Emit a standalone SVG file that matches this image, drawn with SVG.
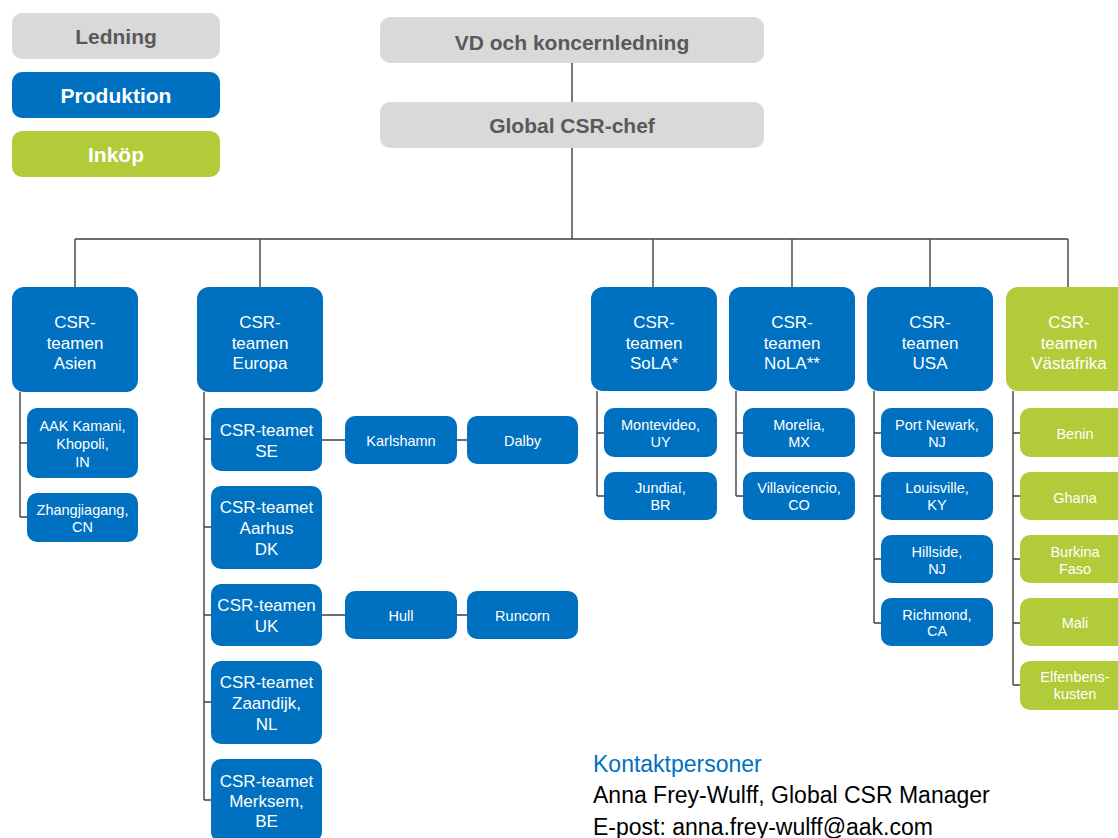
<svg xmlns="http://www.w3.org/2000/svg" width="1118" height="838" viewBox="0 0 1118 838">
<style>
text{font-family:"Liberation Sans",Arial,sans-serif;text-anchor:middle}
.g{fill:#d9d9d9}
.b{fill:#0070c0}
.gr{fill:#b2cb39}
.h{font-size:21px;font-weight:bold;fill:#595959}
.hw{font-size:21px;font-weight:bold;fill:#fff}
.t{font-size:17px;fill:#fff}
.s{font-size:14.5px;fill:#fff}
.c{stroke:#404040;stroke-width:1.4;fill:none}
.f{font-size:23px;text-anchor:start}
</style>
<rect width="1118" height="838" fill="#fff"/>
<g id="connectors" class="c">
<path d="M572 63V102M572 148V239M75 239H1068M75 239V287M260 239V287M653 239V287M792 239V287M930 239V287M1068 239V287"/>
<path d="M20 392V517M20 443H27M20 517H27"/>
<path d="M204 392V800M204 439H211M204 527H211M204 615H211M204 702H211M204 800H211"/>
<path d="M322 440H345M457 440H467M322 615H345M457 615H467"/>
<path d="M597 391V496M597 433H604M597 496H604"/>
<path d="M736 391V496M736 433H743M736 496H743"/>
<path d="M874 391V623M874 433H881M874 496H881M874 559H881M874 623H881"/>
<path d="M1013 391V685M1013 433H1020M1013 496H1020M1013 559H1020M1013 623H1020M1013 685H1020"/>
</g>
<g id="legend-ledning"><rect class="g" x="12" y="13" width="208" height="46" rx="10"/><text class="h" x="116" y="44">Ledning</text></g>
<g id="legend-produktion"><rect class="b" x="12" y="72" width="208" height="46" rx="10"/><text class="hw" x="116" y="103">Produktion</text></g>
<g id="legend-inkop"><rect class="gr" x="12" y="131" width="208" height="46" rx="10"/><text class="hw" x="116" y="162">Inköp</text></g>
<g id="vd"><rect class="g" x="380" y="17" width="384" height="46" rx="10"/><text class="h" x="572" y="50">VD och koncernledning</text></g>
<g id="csr-chef"><rect class="g" x="380" y="102" width="384" height="46" rx="10"/><text class="h" x="572" y="133">Global CSR-chef</text></g>
<g id="asien"><rect class="b" x="12" y="287" width="126" height="105" rx="12"/><text class="t" x="75" y="328">CSR-</text><text class="t" x="75" y="348.5">teamen</text><text class="t" x="75" y="369">Asien</text></g>
<g id="europa"><rect class="b" x="197" y="287" width="126" height="105" rx="12"/><text class="t" x="260" y="328">CSR-</text><text class="t" x="260" y="348.5">teamen</text><text class="t" x="260" y="369">Europa</text></g>
<g id="sola"><rect class="b" x="591" y="287" width="126" height="104" rx="12"/><text class="t" x="654" y="328">CSR-</text><text class="t" x="654" y="348.5">teamen</text><text class="t" x="654" y="369">SoLA*</text></g>
<g id="nola"><rect class="b" x="729" y="287" width="126" height="104" rx="12"/><text class="t" x="792" y="328">CSR-</text><text class="t" x="792" y="348.5">teamen</text><text class="t" x="792" y="369">NoLA**</text></g>
<g id="usa"><rect class="b" x="867" y="287" width="126" height="104" rx="12"/><text class="t" x="930" y="328">CSR-</text><text class="t" x="930" y="348.5">teamen</text><text class="t" x="930" y="369">USA</text></g>
<g id="vastafrika"><rect class="gr" x="1006" y="287" width="126" height="104" rx="12"/><text class="t" x="1069" y="328">CSR-</text><text class="t" x="1069" y="348.5">teamen</text><text class="t" x="1069" y="369">Västafrika</text></g>
<g id="kamani"><rect class="b" x="27" y="408" width="111" height="70" rx="10"/><text class="s" x="82.5" y="431">AAK Kamani,</text><text class="s" x="82.5" y="449">Khopoli,</text><text class="s" x="82.5" y="467">IN</text></g>
<g id="zhangjiagang"><rect class="b" x="27" y="493" width="111" height="49" rx="10"/><text class="s" x="82.5" y="515">Zhangjiagang,</text><text class="s" x="82.5" y="532">CN</text></g>
<g id="se"><rect class="b" x="211" y="408" width="111" height="63" rx="10"/><text class="t" x="266.5" y="436">CSR-teamet</text><text class="t" x="266.5" y="457">SE</text></g>
<g id="karlshamn"><rect class="b" x="345" y="416" width="112" height="48" rx="10"/><text class="s" x="401" y="446">Karlshamn</text></g>
<g id="dalby"><rect class="b" x="467" y="416" width="111" height="48" rx="10"/><text class="s" x="522.5" y="446">Dalby</text></g>
<g id="aarhus"><rect class="b" x="211" y="486" width="111" height="83" rx="10"/><text class="t" x="266.5" y="513">CSR-teamet</text><text class="t" x="266.5" y="533.5">Aarhus</text><text class="t" x="266.5" y="555">DK</text></g>
<g id="uk"><rect class="b" x="211" y="584" width="111" height="62" rx="10"/><text class="t" x="266.5" y="611">CSR-teamen</text><text class="t" x="266.5" y="632">UK</text></g>
<g id="hull"><rect class="b" x="345" y="591" width="112" height="48" rx="10"/><text class="s" x="401" y="621">Hull</text></g>
<g id="runcorn"><rect class="b" x="467" y="591" width="111" height="48" rx="10"/><text class="s" x="522.5" y="621">Runcorn</text></g>
<g id="zaandijk"><rect class="b" x="211" y="661" width="111" height="83" rx="10"/><text class="t" x="266.5" y="688">CSR-teamet</text><text class="t" x="266.5" y="708.5">Zaandijk,</text><text class="t" x="266.5" y="730">NL</text></g>
<g id="merksem"><rect class="b" x="211" y="759" width="111" height="83" rx="10"/><text class="t" x="266.5" y="787">CSR-teamet</text><text class="t" x="266.5" y="807">Merksem,</text><text class="t" x="266.5" y="827">BE</text></g>
<g id="montevideo"><rect class="b" x="604" y="408" width="113" height="49" rx="10"/><text class="s" x="660.5" y="430">Montevideo,</text><text class="s" x="660.5" y="447">UY</text></g>
<g id="jundiai"><rect class="b" x="604" y="472" width="113" height="48" rx="10"/><text class="s" x="660.5" y="493">Jundiaí,</text><text class="s" x="660.5" y="510">BR</text></g>
<g id="morelia"><rect class="b" x="743" y="408" width="112" height="49" rx="10"/><text class="s" x="799" y="430">Morelia,</text><text class="s" x="799" y="447">MX</text></g>
<g id="villavicencio"><rect class="b" x="743" y="472" width="112" height="48" rx="10"/><text class="s" x="799" y="493">Villavicencio,</text><text class="s" x="799" y="510">CO</text></g>
<g id="port-newark"><rect class="b" x="881" y="408" width="112" height="49" rx="10"/><text class="s" x="937" y="430">Port Newark,</text><text class="s" x="937" y="447">NJ</text></g>
<g id="louisville"><rect class="b" x="881" y="472" width="112" height="48" rx="10"/><text class="s" x="937" y="493">Louisville,</text><text class="s" x="937" y="510">KY</text></g>
<g id="hillside"><rect class="b" x="881" y="535" width="112" height="48" rx="10"/><text class="s" x="937" y="557">Hillside,</text><text class="s" x="937" y="573.5">NJ</text></g>
<g id="richmond"><rect class="b" x="881" y="598" width="112" height="48" rx="10"/><text class="s" x="937" y="619.5">Richmond,</text><text class="s" x="937" y="636">CA</text></g>
<g id="benin"><rect class="gr" x="1020" y="408" width="112" height="49" rx="10"/><text class="s" x="1075" y="439">Benin</text></g>
<g id="ghana"><rect class="gr" x="1020" y="472" width="112" height="48" rx="10"/><text class="s" x="1075" y="502.5">Ghana</text></g>
<g id="burkina"><rect class="gr" x="1020" y="535" width="112" height="48" rx="10"/><text class="s" x="1075" y="557">Burkina</text><text class="s" x="1075" y="574">Faso</text></g>
<g id="mali"><rect class="gr" x="1020" y="598" width="112" height="48" rx="10"/><text class="s" x="1075" y="628">Mali</text></g>
<g id="elfenbenskusten"><rect class="gr" x="1020" y="661" width="112" height="49" rx="10"/><text class="s" x="1075" y="682">Elfenbens-</text><text class="s" x="1075" y="698.5">kusten</text></g>
<g id="kontakt">
<text class="f" x="593" y="772" fill="#0070c0">Kontaktpersoner</text>
<text class="f" x="593" y="803" fill="#000">Anna Frey-Wulff, Global CSR Manager</text>
<text class="f" x="593" y="835" fill="#000">E-post: anna.frey-wulff@aak.com</text>
</g>
</svg>
